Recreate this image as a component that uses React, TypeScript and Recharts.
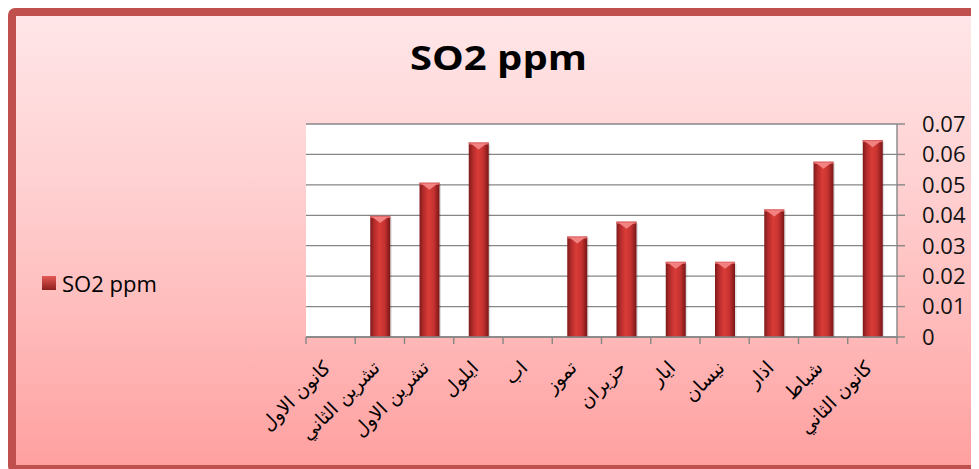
import React from 'react';
import { BarChart, Bar, XAxis, YAxis, CartesianGrid } from 'recharts';

// ---- data ----
const months = [
  'كانون الاول',
  'تشرين الثاني',
  'تشرين الاول',
  'ايلول',
  'اب',
  'تموز',
  'حزيران',
  'ايار',
  'نيسان',
  'اذار',
  'شباط',
  'كانون الثاني',
];
const so2Values = [0, 0.0398, 0.0507, 0.0639, 0, 0.033, 0.0379, 0.0247, 0.0247, 0.0419, 0.0576, 0.0647];
const yTicks = [0, 0.01, 0.02, 0.03, 0.04, 0.05, 0.06, 0.07];
const seriesName = 'SO2 ppm';
const chartTitle = 'SO2 ppm';

const data = months.map((m, i) => ({ month: m, so2: so2Values[i] }));

// ---- layout ----
const W = 971;
const H = 461;
const M = { top: 116, left: 298, right: 12, bottom: 32 };
const YAXIS_W = 70;
const XAXIS_H = 100;
const PLOT_W = W - M.left - M.right - YAXIS_W;
const BAND = PLOT_W / months.length;
const AXIS_GRAY = '#868686';

function MonthTick(props: any) {
  const { x, y, payload } = props;
  const idx = props.index ?? payload?.index ?? 0;
  const left = x - BAND / 2;
  const ax = x + 1;
  const ay = y + 32;
  return (
    <g>
      <line x1={left} x2={left} y1={y} y2={y + 7} stroke={AXIS_GRAY} strokeWidth={1.4} />
      {idx === months.length - 1 && (
        <line x1={x + BAND / 2} x2={x + BAND / 2} y1={y} y2={y + 7} stroke={AXIS_GRAY} strokeWidth={1.4} />
      )}
      <text
        x={ax}
        y={ay}
        transform={`rotate(-45 ${ax} ${ay})`}
        textAnchor="end"
        fontFamily="'DejaVu Sans', sans-serif"
        fontSize={19}
        fill="#000"
      >
        {payload.value}
      </text>
    </g>
  );
}

function BarShape(p: any) {
  const { x, y, width, height } = p;
  if (!height || height <= 0) return null;
  return (
    <g>
      <rect x={x + 1.5} y={y + 1.5} width={width} height={height} fill="rgba(0,0,0,0.12)" />
      <rect x={x} y={y} width={width} height={height} fill="url(#so2BarGrad)" />
      <rect x={x} y={y} width={width} height={2} fill="#E26464" />
      <polygon
        points={`${x + 2},${y + 1} ${x + width - 2},${y + 1} ${x + width / 2},${y + 7}`}
        fill="#F58A8A"
        opacity={0.9}
      />
    </g>
  );
}

export default function App() {
  return (
    <div style={{ position: 'relative', width: W, height: H, overflow: 'hidden' }}>
      <div
        style={{
          position: 'absolute',
          left: 0,
          top: 0,
          width: W + 40,
          height: 465,
          boxSizing: 'border-box',
          border: '8px solid #C0504D',
          borderRadius: 7,
          background: 'linear-gradient(to bottom, #FFE6E8 0%, #FFD2D3 35%, #FFBDBD 65%, #FFA0A0 100%)',
        }}
      />
      <svg width={W} height={110} style={{ position: 'absolute', left: 0, top: 0 }}>
        <defs>
          <linearGradient id="so2BarGrad" x1="0" y1="0" x2="1" y2="0">
            <stop offset="0%" stopColor="#7E1A1A" />
            <stop offset="18%" stopColor="#B02A2A" />
            <stop offset="45%" stopColor="#DA3C37" />
            <stop offset="72%" stopColor="#C53230" />
            <stop offset="100%" stopColor="#781616" />
          </linearGradient>
        </defs>
        <text
          x={490.5}
          y={62}
          textAnchor="middle"
          fontFamily="'Open Sans', sans-serif"
          fontWeight="bold"
          fontSize={34}
          fill="#000"
          textLength={177}
          lengthAdjust="spacingAndGlyphs"
        >
          {chartTitle}
        </text>
      </svg>
      <div
        style={{
          position: 'absolute',
          left: 34,
          top: 262,
          height: 26,
          display: 'flex',
          alignItems: 'center',
          fontFamily: "'Open Sans', sans-serif",
          fontSize: 22,
          lineHeight: '26px',
          color: '#000',
          whiteSpace: 'nowrap',
        }}
      >
        <div
          style={{
            width: 14,
            height: 14,
            marginRight: 6,
            background: 'linear-gradient(to bottom, #E35A55, #8E1E1E)',
          }}
        />
        <span>{seriesName}</span>
      </div>
      <div style={{ position: 'absolute', left: 0, top: 0 }}>
        <BarChart width={W} height={H} data={data} margin={M}>
          <CartesianGrid vertical={false} stroke={AXIS_GRAY} strokeWidth={1.3} fill="#ffffff" />
          <XAxis
            dataKey="month"
            interval={0}
            height={XAXIS_H}
            tickSize={0}
            tickMargin={0}
            tickLine={false}
            axisLine={{ stroke: AXIS_GRAY, strokeWidth: 1.4 }}
            tick={(p: any) => <MonthTick {...p} />}
          />
          <YAxis
            orientation="right"
            domain={[0, 0.07]}
            ticks={yTicks}
            interval={0}
            width={YAXIS_W}
            tickSize={8}
            tickMargin={17}
            axisLine={{ stroke: AXIS_GRAY, strokeWidth: 1.4 }}
            tickLine={{ stroke: AXIS_GRAY, strokeWidth: 1.4 }}
            tick={{ fill: '#111', fontSize: 22, fontFamily: "'Open Sans', sans-serif" }}
            tickFormatter={(v: number) => String(v)}
            allowDataOverflow
          />
          <Bar dataKey="so2" name={seriesName} barSize={20} isAnimationActive={false} shape={(p: any) => <BarShape {...p} />} />
        </BarChart>
      </div>
    </div>
  );
}
